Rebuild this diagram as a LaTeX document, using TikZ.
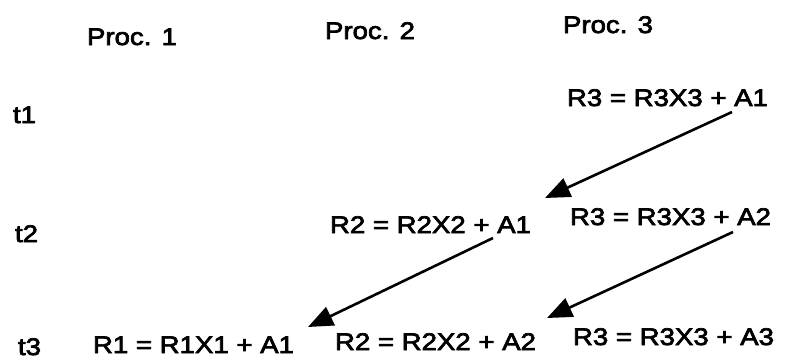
\documentclass[tikz,border=0pt]{standalone}
\usepackage{fontspec}
\setmainfont{Liberation Sans}[FakeStretch=1.15, FakeBold=3]
\usetikzlibrary{arrows.meta}
\begin{document}
\begin{tikzpicture}[x=1pt, y=-1pt,
  lbl/.style={anchor=base west, inner sep=0pt, outer sep=0pt, font=\fontsize{24}{28}\selectfont},
  msg/.style={line width=2.6pt, -{Triangle[length=25pt, width=20pt]}}]
\useasboundingbox (0,0) rectangle (787,364);
% column headers
\node[lbl] (p1) at (87,45) {Proc. 1};
\node[lbl] (p2) at (325,39) {Proc. 2};
\node[lbl] (p3) at (563,33) {Proc. 3};
% time labels
\node[lbl] (t1) at (13,123) {t1};
\node[lbl] (t2) at (15,242) {t2};
\node[lbl] (t3) at (18,355) {t3};
% equations
\node[lbl] (r3a1) at (567,106) {R3 = R3X3 + A1};
\node[lbl] (r2a1) at (330,233) {R2 = R2X2 + A1};
\node[lbl] (r3a2) at (570,225) {R3 = R3X3 + A2};
\node[lbl] (r1a1) at (93,353) {R1 = R1X1 + A1};
\node[lbl] (r2a2) at (335,350) {R2 = R2X2 + A2};
\node[lbl] (r3a3) at (573,345) {R3 = R3X3 + A3};
% messages
\draw[msg] ([shift={(165,6)}]r3a1.base west) -- ([shift={(215,-35)}]r2a1.base west);
\draw[msg] ([shift={(163,5)}]r2a1.base west) -- ([shift={(215,-26)}]r1a1.base west);
\draw[msg] ([shift={(163,7)}]r3a2.base west) -- ([shift={(212,-32)}]r2a2.base west);
\end{tikzpicture}
\end{document}
